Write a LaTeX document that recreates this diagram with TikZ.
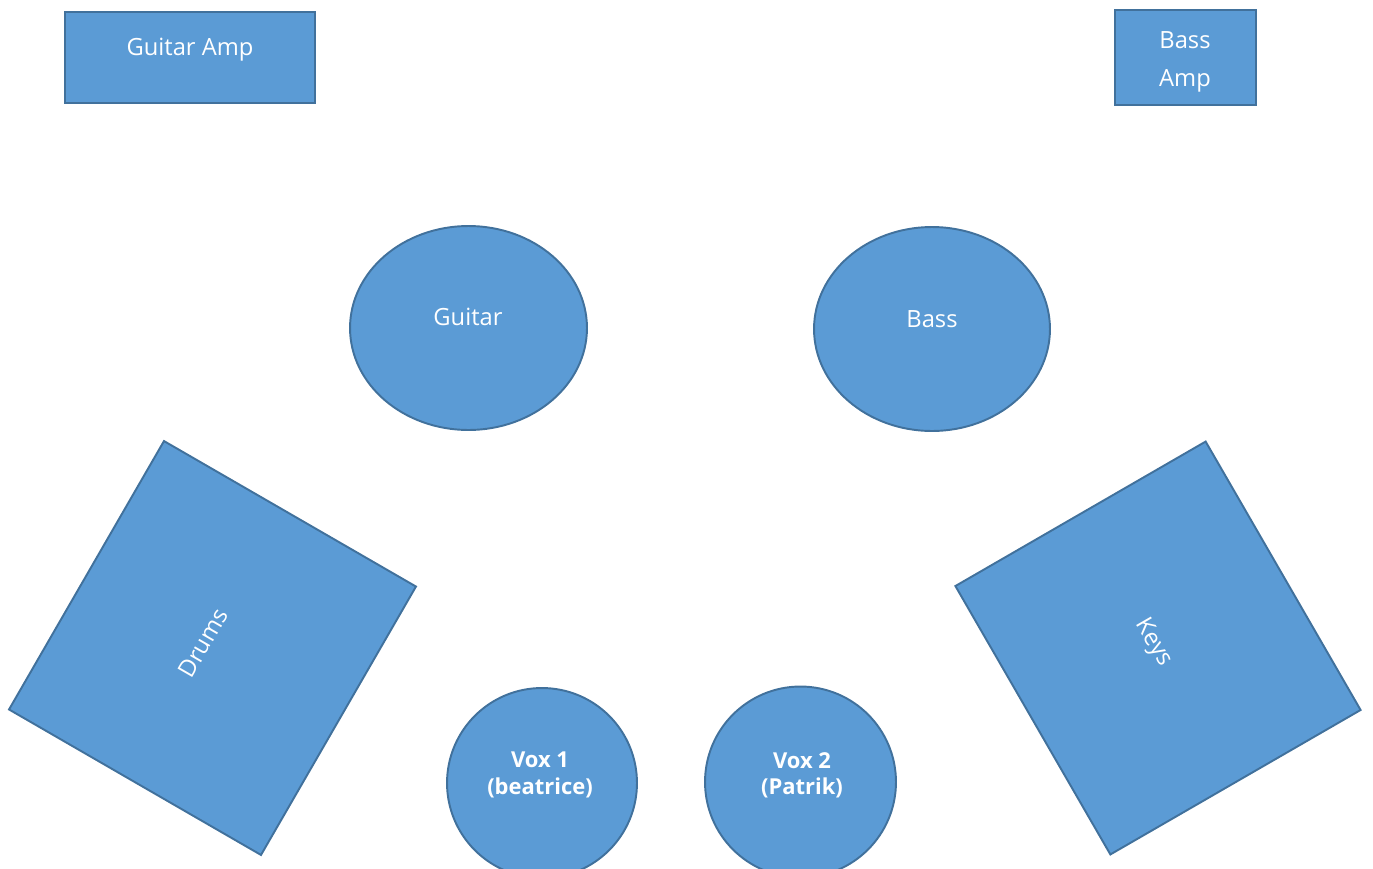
\documentclass[tikz,border=0pt]{standalone}
\usepackage{fontspec}
\setmainfont{Open Sans}
\usetikzlibrary{shapes.geometric}
\definecolor{shfill}{HTML}{5B9BD5}
\definecolor{shline}{HTML}{41719C}
\tikzset{
  shp/.style={draw=shline, fill=shfill, line width=1.1pt, inner sep=0pt, outer sep=0pt},
  boxshape/.style={shp, rectangle},
  ellshape/.style={shp, ellipse},
  circshape/.style={shp, circle},
  lbl/.style={text=white, font=\fontsize{13.5}{22}\selectfont, align=center, inner sep=0pt},
  boldlbl/.style={text=white, font=\bfseries\fontsize{12.5}{15}\selectfont, align=center, inner sep=0pt}
}
\begin{document}
\begin{tikzpicture}[x=0.02cm, y=-0.02cm]
\clip (0,0) rectangle (1373,869);
% amps
\node[boxshape, minimum width=5cm, minimum height=1.82cm] (gamp) at (190,57.5) {};
\node[lbl] (gampl) at (190,50) {Guitar Amp};
\node[boxshape, minimum width=2.82cm, minimum height=1.9cm] (bamp) at (1185.5,57.5) {};
\node[lbl] (bampl) at (1185,62) {Bass\\Amp};
% guitar / bass
\node[ellshape, minimum width=4.74cm, minimum height=4.08cm] (guitar) at (468.5,328) {};
\node[lbl] (guitarl) at (468,317) {Guitar};
\node[ellshape, minimum width=4.72cm, minimum height=4.08cm] (bass) at (932,329) {};
\node[lbl] (bassl) at (932,319) {Bass};
% drums / keys
\node[boxshape, minimum width=6.2cm, minimum height=5.82cm, rotate=60] (drums) at (212.5,648) {};
\node[lbl, rotate=60] (drumsl) at (203,643) {Drums};
\node[boxshape, minimum width=6.2cm, minimum height=5.78cm, rotate=-60] (keys) at (1158,648) {};
\node[lbl, rotate=-60] (keysl) at (1153,643) {Keys};
% vocals
\node[circshape, minimum size=3.8cm] (vox1) at (542,783) {};
\node[boldlbl] (vox1l) at (540,775) {Vox 1\\(beatrice)};
\node[circshape, minimum size=3.82cm] (vox2) at (800.5,782) {};
\node[boldlbl] (vox2l) at (802,775) {Vox 2\\(Patrik)};
\end{tikzpicture}
\end{document}
